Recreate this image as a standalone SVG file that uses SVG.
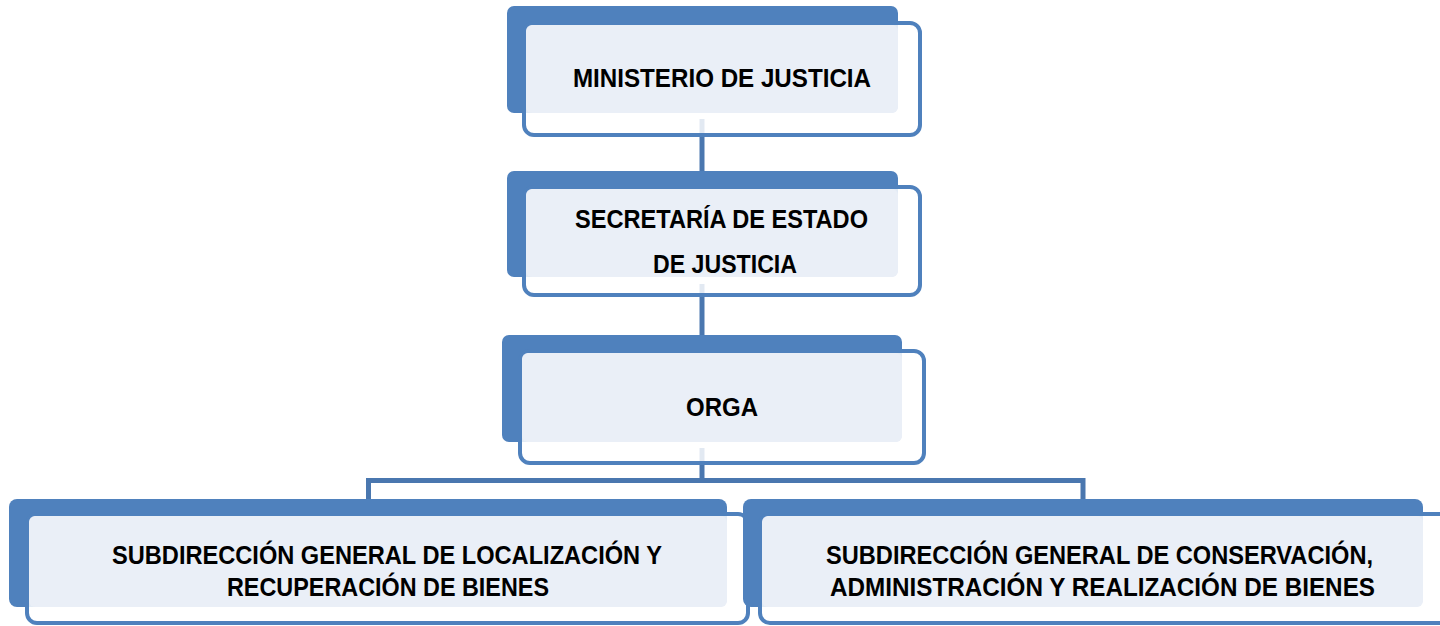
<svg xmlns="http://www.w3.org/2000/svg" width="1440" height="626" viewBox="0 0 1440 626">
<style>
.back{fill:#4F81BD}
.front{fill:#FFFFFF;fill-opacity:0.84;stroke:#4F81BD;stroke-width:4}
.light{fill:#EAEFF7}
.conn{fill:none;stroke:#4A77AF;stroke-width:5;stroke-linejoin:miter;stroke-linecap:butt}
.t{font-family:"Liberation Sans",Arial,sans-serif;font-weight:bold;font-size:26px;fill:#000}
</style>
<rect width="1440" height="626" fill="#FFFFFF"/>
<g id="connectors">
<line class="conn" x1="702" y1="119" x2="702" y2="173"/>
<line class="conn" x1="702" y1="284" x2="702" y2="337"/>
<line class="conn" x1="702" y1="448" x2="702" y2="480.5"/>
<path class="conn" d="M368.5,499 V480.5 H1083 V499"/>
</g>
<g id="node-ministerio">
<rect class="back" x="507" y="6" width="391" height="107" rx="7"/>
<rect class="front" x="524" y="23" width="396" height="112" rx="10"/>
<rect class="light" x="526" y="25" width="372" height="88" rx="6"/>
<text class="t" x="573" y="87" textLength="298" lengthAdjust="spacingAndGlyphs">MINISTERIO DE JUSTICIA</text>
</g>
<g id="node-secretaria">
<rect class="back" x="507" y="171" width="391" height="106" rx="7"/>
<rect class="front" x="524" y="187" width="396" height="108" rx="10"/>
<rect class="light" x="526" y="189" width="372" height="88" rx="6"/>
<text class="t" x="575" y="228" textLength="293" lengthAdjust="spacingAndGlyphs">SECRETARÍA DE ESTADO</text>
<text class="t" x="653" y="273" textLength="144" lengthAdjust="spacingAndGlyphs">DE JUSTICIA</text>
</g>
<g id="node-orga">
<rect class="back" x="502" y="335" width="400" height="107" rx="7"/>
<rect class="front" x="520" y="351" width="404" height="112" rx="10"/>
<rect class="light" x="522" y="353" width="380" height="89" rx="6"/>
<text class="t" x="686" y="416" textLength="72" lengthAdjust="spacingAndGlyphs">ORGA</text>
</g>
<g id="node-localizacion">
<rect class="back" x="9" y="499" width="718" height="108" rx="8"/>
<rect class="front" x="27" y="514" width="721" height="109" rx="10"/>
<rect class="light" x="29" y="516" width="698" height="91" rx="6"/>
<text class="t" x="112" y="564" textLength="550" lengthAdjust="spacingAndGlyphs">SUBDIRECCIÓN GENERAL DE LOCALIZACIÓN Y</text>
<text class="t" x="227" y="596" textLength="322" lengthAdjust="spacingAndGlyphs">RECUPERACIÓN DE BIENES</text>
</g>
<g id="node-conservacion">
<rect class="back" x="743" y="499" width="680" height="108" rx="8"/>
<rect class="front" x="760" y="514" width="700" height="109" rx="10"/>
<rect class="light" x="762" y="516" width="661" height="91" rx="6"/>
<text class="t" x="826" y="564" textLength="547" lengthAdjust="spacingAndGlyphs">SUBDIRECCIÓN GENERAL DE CONSERVACIÓN,</text>
<text class="t" x="830" y="596" textLength="545" lengthAdjust="spacingAndGlyphs">ADMINISTRACIÓN Y REALIZACIÓN DE BIENES</text>
</g>
</svg>
